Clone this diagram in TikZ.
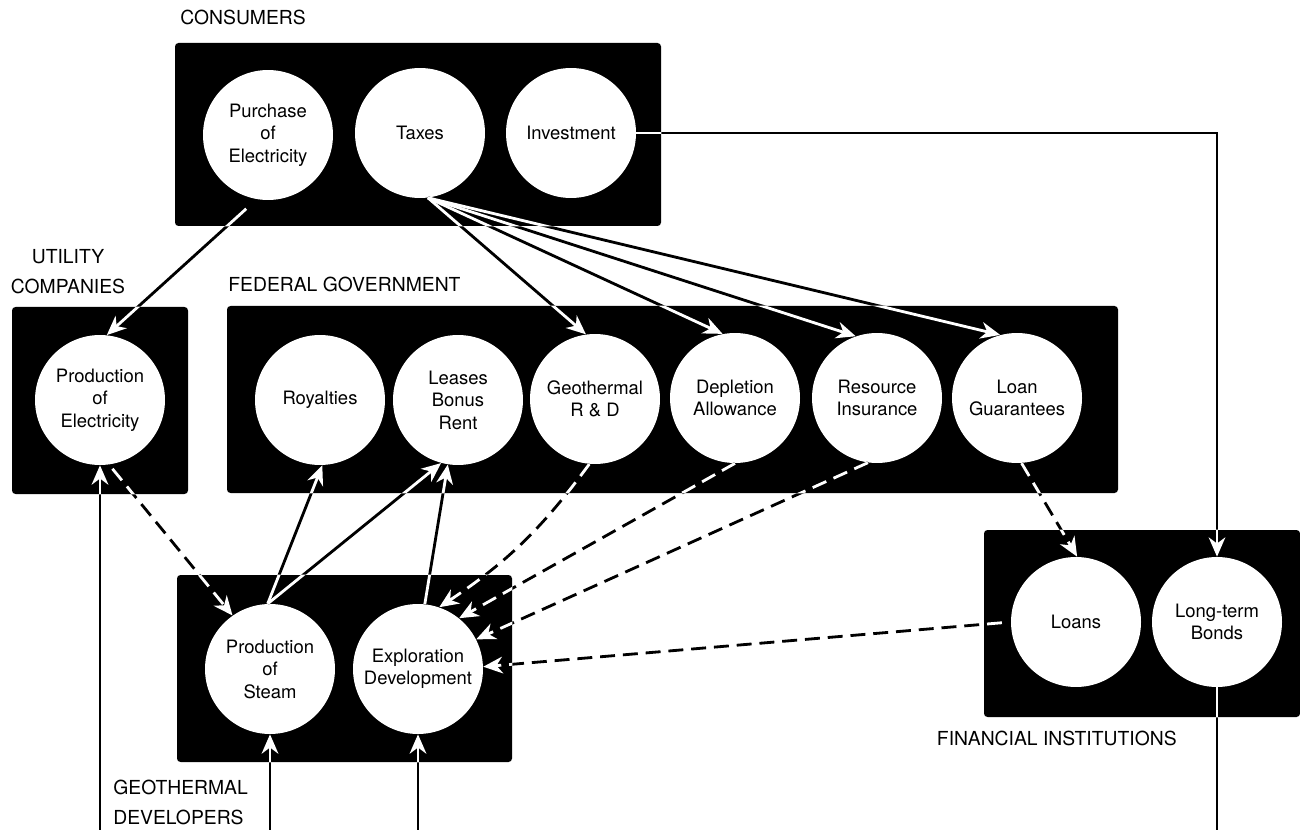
\documentclass[tikz,border=0pt]{standalone}
\usepackage{fontspec}
\setmainfont{TeX Gyre Heros}
\usepackage{tikz}
\usetikzlibrary{arrows.meta,fit}

\newcommand\ink{black}

\tikzset{
  box/.style={fill=black,rounded corners=2pt,inner sep=0pt},
  item/.style={circle,fill=white,minimum size=2.6cm,inner sep=0pt,align=center,
    font=\fontsize{10.5}{12.8}\selectfont},
  group/.style={inner sep=0pt,font=\fontsize{11}{17}\selectfont},
  flow/.style={draw=\ink,line width=1.6pt,-{Stealth[length=11pt,width=9.5pt,inset=3.5pt]}},
  money/.style={flow,dash pattern=on 8.5pt off 4.5pt},
  feed/.style={draw=\ink,line width=1.2pt},
}

% all connectors, drawn once in black and once in white inside the boxes
\newcommand\flowlines{%
  % consumers
  \draw[flow,shorten <=8pt] (purchase.-100) -- (prodelec.84);
  \draw[flow] (taxes.-83) -- (rd.98);
  \draw[flow] (taxes.-83) -- (depletion.101);
  \draw[flow] (taxes.-83) -- (insurance.109);
  \draw[flow] (taxes.-83) -- (guarantees.105);
  \draw[flow,line width=1.1pt] (investment.east) -| (bonds.north);
  % utility companies
  \draw[money,shorten <=3pt] (prodelec.-82) -- (steam.125);
  % geothermal developers
  \draw[flow] (steam.92) -- (royalties.-88);
  \draw[flow] (steam.92) -- (leases.-105);
  \draw[flow] (explore.84) -- (leases.-99);
  % federal government
  \draw[money] (rd.-95) to[bend left=10] (explore.71);
  \draw[money] (depletion.-90) -- (explore.51);
  \draw[money] (insurance.-98) -- (explore.27);
  \draw[money] (guarantees.-86) -- (loans.89);
  % financial institutions
  \draw[money,shorten <=5pt] (loans.west) -- (explore.2);
  \draw[feed] (bonds.south) -- (bondsOut);
  % inputs from below
  \draw[flow] (elecIn) -- (prodelec.south);
  \draw[flow] (steamIn) -- (steam.south);
  \draw[flow] (exploreIn) -- (explore.south);
}

\begin{document}
\begin{tikzpicture}[x=0.02cm,y=-0.02cm]
\useasboundingbox (0,0) rectangle (1300,830);

% Boxes
\node[box,fit={(175,43) (661,226)}] (consumers) {};
\node[box,fit={(12,307) (188,494)}] (utility) {};
\node[box,fit={(227,306) (1118,493)}] (federal) {};
\node[box,fit={(177,575) (512,762)}] (developers) {};
\node[box,fit={(984,530) (1300,717)}] (financial) {};

% Group labels
\node[group,anchor=base west] (consLabel) at (180,25) {CONSUMERS};
\node[group,anchor=north,align=center] (utilLabel) at (68,249) {UTILITY\\COMPANIES};
\node[group,anchor=base west] (fedLabel) at (228,292) {FEDERAL GOVERNMENT};
\node[group,anchor=north west,align=left] (devLabel) at (113,780) {GEOTHERMAL\\DEVELOPERS};
\node[group,anchor=base east] (finLabel) at (1177,745) {FINANCIAL INSTITUTIONS};

% Consumers
\node[item] (purchase) at (268,135) {Purchase\\of\\Electricity};
\node[item] (taxes) at (420,133) {Taxes};
\node[item] (investment) at (571,133) {Investment};

% Utility companies
\node[item] (prodelec) at (100,400) {Production\\of\\Electricity};

% Federal government
\node[item] (royalties) at (320,400) {Royalties};
\node[item] (leases) at (458,400) {Leases\\Bonus\\Rent};
\node[item] (rd) at (595,399) {Geothermal\\R \& D};
\node[item] (depletion) at (735,398) {Depletion\\Allowance};
\node[item] (insurance) at (877,398) {Resource\\Insurance};
\node[item] (guarantees) at (1017,398) {Loan\\Guarantees};

% Geothermal developers
\node[item] (steam) at (270,669) {Production\\of\\Steam};
\node[item] (explore) at (418,669) {Exploration\\Development};

% Financial institutions
\node[item] (loans) at (1076,622) {Loans};
\node[item] (bonds) at (1217,622) {Long-term\\Bonds};

% Free ends at the bottom
\coordinate (elecIn) at (100,830);
\coordinate (steamIn) at (270,830);
\coordinate (exploreIn) at (418,830);
\coordinate (bondsOut) at (1217,830);

% Connectors: black outside the boxes
\flowlines

% ... and white inside them
\begin{scope}
  \clip (consumers.south west) rectangle (consumers.north east)
        (utility.south west) rectangle (utility.north east)
        (federal.south west) rectangle (federal.north east)
        (developers.south west) rectangle (developers.north east)
        (financial.south west) rectangle (financial.north east);
  \renewcommand\ink{white}
  \flowlines
\end{scope}
\end{tikzpicture}
\end{document}
